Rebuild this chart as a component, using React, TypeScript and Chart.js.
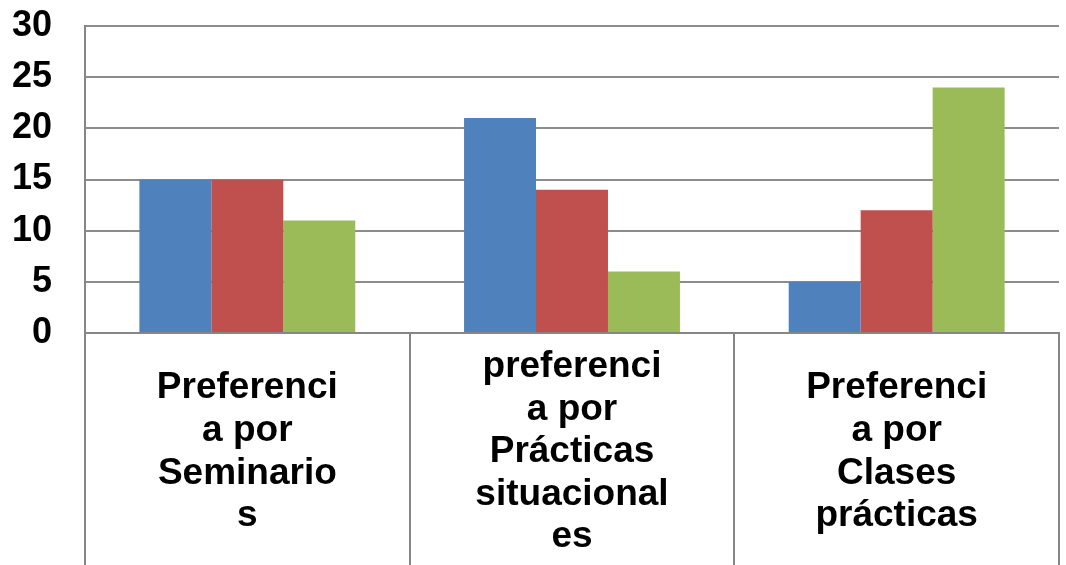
import React, { useEffect, useRef } from "react";
import { Chart, registerables } from "chart.js";

Chart.register(...registerables);

const categories: string[][] = [
  ["Preferenci", "a por", "Seminario", "s"],
  ["preferenci", "a por", "Prácticas", "situacional", "es"],
  ["Preferenci", "a por", "Clases", "prácticas"],
];
const series1 = [15, 21, 5];
const series2 = [15, 14, 12];
const series3 = [11, 6, 24];
const seriesNames = ["Serie 1", "Serie 2", "Serie 3"];
const yMin = 0;
const yMax = 30;
const yStep = 5;

const FONT = "'Liberation Sans', Arial, sans-serif";
const AXIS_H = 232;

export default function App() {
  const ref = useRef<HTMLCanvasElement>(null);
  useEffect(() => {
    if (!ref.current) return;
    const chart = new Chart(ref.current, {
      type: "bar",
      data: {
        labels: categories,
        datasets: [
          { label: seriesNames[0], data: series1, backgroundColor: "#4F81BD" },
          { label: seriesNames[1], data: series2, backgroundColor: "#C0504D" },
          { label: seriesNames[2], data: series3, backgroundColor: "#9BBB59" },
        ],
      },
      options: {
        animation: false,
        responsive: false,
        maintainAspectRatio: false,
        layout: { padding: { top: 26, right: 7, left: 0, bottom: 0 } },
        datasets: { bar: { categoryPercentage: 0.665, barPercentage: 1 } },
        plugins: { legend: { display: false }, tooltip: { enabled: false } },
        scales: {
          x: {
            offset: true,
            grid: {
              offset: true,
              drawOnChartArea: false,
              drawTicks: true,
              tickLength: AXIS_H,
              color: "#868686",
              lineWidth: 2,
            },
            border: { display: true, color: "#868686", width: 2 },
            ticks: {
              autoSkip: false,
              maxRotation: 0,
              minRotation: 0,
              crossAlign: "center",
              padding: 34 - AXIS_H,
              color: "#000",
              font: { family: FONT, size: 37, weight: "bold", lineHeight: 1.15 },
            },
            afterFit: (s: any) => {
              s.height = AXIS_H;
              s.paddingTop = 0;
              s.paddingBottom = 0;
            },
          },
          y: {
            min: yMin,
            max: yMax,
            grid: { drawTicks: false, color: "#8c8c8c", lineWidth: 2 },
            border: { display: true, color: "#868686", width: 2 },
            ticks: {
              stepSize: yStep,
              padding: 33,
              color: "#000",
              font: { family: FONT, size: 36, weight: "bold" },
            },
            afterFit: (s: any) => {
              s.width = 85;
              s.paddingTop = 0;
              s.paddingBottom = 0;
            },
          },
        },
      },
    });
    return () => chart.destroy();
  }, []);
  return (
    <div style={{ position: "fixed", left: 0, top: 0, width: 1066, height: 565, background: "#fff" }}>
      <canvas ref={ref} width={1066} height={565} style={{ width: 1066, height: 565 }} />
    </div>
  );
}
